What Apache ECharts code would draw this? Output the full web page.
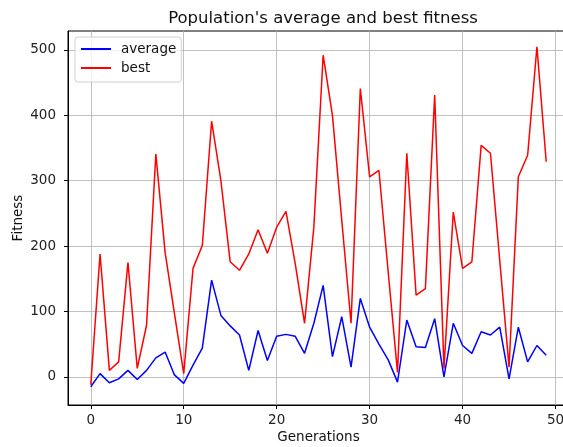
<!DOCTYPE html>
<html>
<head>
    <meta charset="utf-8">
    <title>Population fitness</title>
    <script src="https://cdn.jsdelivr.net/npm/echarts@6/dist/echarts.min.js"></script>
    <style>
        html, body { margin: 0; padding: 0; background: #fff; overflow: hidden; }
        #main { width: 580px; height: 447px; }
    </style>
</head>
<body>
<div id="main"></div>
<script>
    // generations on x
    var generations = [0, 1, 2, 3, 4, 5, 6, 7, 8, 9,
        10, 11, 12, 13, 14, 15, 16, 17, 18, 19,
        20, 21, 22, 23, 24, 25, 26, 27, 28, 29,
        30, 31, 32, 33, 34, 35, 36, 37, 38, 39,
        40, 41, 42, 43, 44, 45, 46, 47, 48, 49];
    var average = [-15, 5, -9, -3, 10, -4, 10, 29, 38, 3,
        -10, 18, 44, 148, 94, 78, 64, 10, 71, 25,
        62, 65, 62, 36, 82, 140, 31, 92, 15, 120,
        76, 50, 26, -8, 87, 46, 45, 89, 0, 82,
        48, 36, 69, 64, 76, -3, 76, 23, 48, 33];
    var best = [-12, 188, 10, 23, 175, 13, 79, 341, 190, 97,
        5, 166, 201, 391, 300, 176, 163, 188, 225, 189,
        229, 253, 173, 82, 229, 492, 400, 240, 82, 441,
        306, 316, 160, 7, 342, 125, 135, 431, 13, 252,
        166, 176, 354, 342, 178, 15, 306, 339, 505, 329];
    var xTicks = [0, 10, 20, 30, 40, 50];
    var yTicks = [0, 100, 200, 300, 400, 500];

    function pairs(vals) {
        var out = [];
        for (var i = 0; i < vals.length; i++) {
            out.push([generations[i], vals[i]]);
        }
        return out;
    }

    var chart = echarts.init(document.getElementById('main'));
    var font = 'DejaVu Sans';
    var option = {
        animation: false,
        title: {
            text: "Population's average and best fitness",
            left: 318,
            textAlign: 'center',
            top: 5,
            textStyle: { fontFamily: font, fontSize: 16.5, fontWeight: 'normal', color: '#111' }
        },
        legend: {
            orient: 'vertical',
            left: 75,
            top: 37,
            padding: [5, 5, 7, 6],
            itemGap: 5,
            itemWidth: 30,
            itemHeight: 2,
            icon: 'rect',
            borderColor: '#d0d0d0',
            borderWidth: 1,
            borderRadius: 3,
            backgroundColor: 'rgba(255,255,255,0.8)',
            textStyle: { fontFamily: font, fontSize: 13.5, color: '#111', padding: [0, 0, 0, 5] },
            data: ['average', 'best']
        },
        grid: {
            left: 68,
            right: 11,
            top: 31,
            bottom: 42,
            containLabel: false,
            outerBoundsMode: 'none',
            show: true,
            borderColor: '#000',
            borderWidth: 1
        },
        xAxis: {
            type: 'value',
            min: -2.45,
            max: 51.45,
            name: 'Generations',
            nameLocation: 'middle',
            nameGap: 25,
            nameMoveOverlap: false,
            nameTextStyle: { fontFamily: font, fontSize: 13.5, color: '#111' },
            axisLine: { onZero: false, lineStyle: { color: '#000', width: 1 } },
            axisTick: { length: 4, customValues: xTicks, lineStyle: { color: '#000' } },
            axisLabel: { customValues: xTicks, margin: 8, fontFamily: font, fontSize: 13.5, color: '#222' },
            splitLine: { show: true, lineStyle: { color: '#b0b0b0', width: 0.8 } }
        },
        yAxis: {
            type: 'value',
            min: -43,
            max: 529,
            name: 'Fitness',
            nameLocation: 'middle',
            nameGap: 43,
            nameMoveOverlap: false,
            nameTextStyle: { fontFamily: font, fontSize: 13.5, color: '#111' },
            axisLine: { show: true, onZero: false, lineStyle: { color: '#000', width: 1 } },
            axisTick: { show: true, length: 4, customValues: yTicks, lineStyle: { color: '#000' } },
            axisLabel: { customValues: yTicks, margin: 12, fontFamily: font, fontSize: 13.5, color: '#222' },
            splitLine: { show: true, lineStyle: { color: '#b0b0b0', width: 0.8 } }
        },
        series: [
            {
                name: 'average',
                type: 'line',
                data: pairs(average),
                symbol: 'none',
                lineStyle: { color: '#0000ff', width: 1.5 },
                itemStyle: { color: '#0000ff' }
            },
            {
                name: 'best',
                type: 'line',
                data: pairs(best),
                symbol: 'none',
                lineStyle: { color: '#ff0000', width: 1.5 },
                itemStyle: { color: '#ff0000' }
            }
        ]
    };
    option && chart.setOption(option);
</script>
</body>
</html>
